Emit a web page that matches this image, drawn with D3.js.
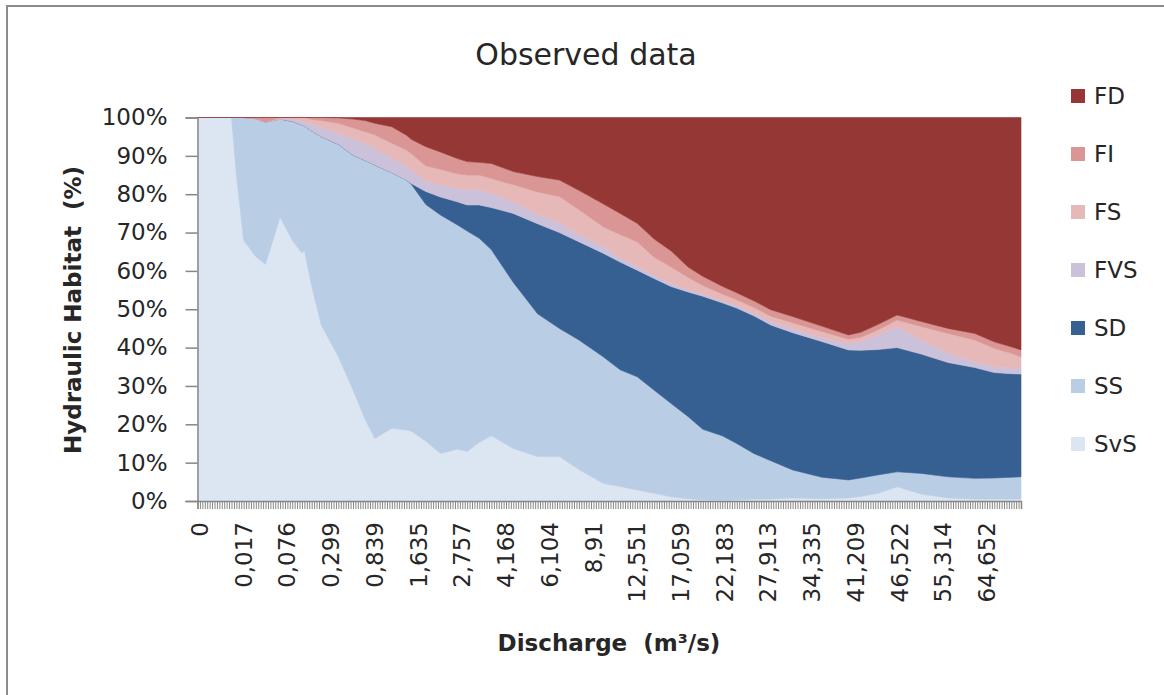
<!DOCTYPE html>
<html><head><meta charset="utf-8">
<script src="https://cdn.jsdelivr.net/npm/d3@7"></script>
<style>
body{margin:0;background:#fff;}
svg text{font-family:"DejaVu Sans",sans-serif;fill:#262626;}
</style>
</head><body>
<svg id="chart" width="1164" height="695"></svg>
<script>
// ---- data ----
const chartTitle = "Observed data";
const categoryCount = 340;          // discharge classes on the category axis
const labelStep = 18;               // one label every 18 categories
const xLabels = ["0","0,017","0,076","0,299","0,839","1,635","2,757","4,168","6,104","8,91",
  "12,551","17,059","22,183","27,913","34,335","41,209","46,522","55,314","64,652"];
const yTicks = [0,10,20,30,40,50,60,70,80,90,100];
const seriesNames = ["SvS","SS","SD","FVS","FS","FI","FD"];
const seriesColors = ["#DCE6F2","#B9CDE5","#376092","#CCC1DA","#E6B9B8","#D99694","#953735"];

const sampleIndex = [0,14,16,19,24,28,34,39,43,44,47,51,58,64,69,73,80,86,88,94,
  100,107,111,116,121,130,140,149,157,167,174,181,188,195,202,208,216,222,229,236,
  245,257,268,273,280,288,298,309,320,328,335,339];

const SvS = [100,100,85,68,63.7,61.7,74,68,64.6,65.4,56,45.8,37.6,29,21.3,16.3,19,18.5,18.2,15.6,
  12.4,13.5,12.9,15.3,17,13.7,11.6,11.6,8.2,4.6,3.8,2.9,2,1.1,0.6,0.3,0.2,0.3,0.5,0.5,
  0.8,0.6,0.8,1.2,2,3.7,1.8,0.8,0.5,0.5,0.5,0.5];
const SS = [0,0,15,32,36,37.1,25.6,31,33.4,32.4,40.5,49.2,55.4,61.2,67.5,71.3,66.6,65.2,64.4,61.7,
  62.2,58.5,57.5,53.2,48.5,43.3,37.2,33.4,33.8,33,30.4,29.5,26.9,24.3,21.4,18.4,16.8,14.7,11.9,10,
  7.3,5.6,4.7,4.8,4.8,3.9,5.4,5.5,5.4,5.5,5.7,5.8];
const SD = [0,0,0,0,0,0,0,0,0,0,0,0,0,0,0,0,0,0,0.2,3.4,
  4.7,6,6.8,8.7,11,18,23.5,25,25.6,27,28.1,27.8,29.1,30.5,32.5,34.7,34.7,35.3,35.9,35.4,
  35.8,35.4,33.9,33.3,32.7,32.4,31.1,29.8,28.9,27.5,27,26.8];
const FVS = [0,0,0,0,0,0,0,0.6,1,1,1.8,2.4,2.9,4.3,4.5,4.4,3.8,3.6,3.5,2.7,
  3.1,3.5,4.1,3.9,3.7,3,2.5,2.6,1.9,1.9,1.1,1,0.8,0.8,0.5,0.6,0.6,0.7,0.7,0.9,
  1.1,1,1.7,2.2,3.8,5.4,3.7,2.4,1.5,1.5,1.5,1.5];
const FS = [0,0,0,0,0,0,0.4,0.4,1,1.2,1.2,1.8,2.6,2.8,3,3.5,3.9,4.2,4.3,4,
  4.1,3.8,3.7,3.9,3.9,4.5,5.8,6.8,6.5,5,6.1,6.4,4.8,4.3,3.3,2.2,1.7,1.5,1.5,1.4,
  1.5,1.6,1.1,1.2,1.3,1.8,3.5,5.2,5.7,4.8,3.8,3];
const FI = [0,0,0,0,0.3,1.2,0,0,0,0,0.5,0.8,1.4,2.3,2.9,3,4.3,3.9,3.7,5,
  4.5,4,3.5,3.3,3.9,3.4,4,4.3,5,6,5.5,4.8,4.7,4.2,2.7,2.4,2,1.8,1.7,1.7,
  1.6,1.4,1.1,1.3,1.4,1.3,1.3,1.3,1.7,1.7,1.7,1.8];
const FD = [0,0,0,0,0,0,0,0,0,0,0,0,0.1,0.4,0.8,1.5,2.4,4.6,5.7,7.6,
  9,10.7,11.5,11.7,12,14.1,15.4,16.3,19,22.5,25,27.6,31.7,34.8,39,41.4,44,45.7,47.8,50.1,
  51.9,54.4,56.7,56,54,51.5,53.2,55,56.3,58.5,59.8,60.6];

// ---- table for the stack ----
const seriesData = {SvS, SS, SD, FVS, FS, FI, FD};
const rows = sampleIndex.map((idx, j) => {
  const r = {idx};
  seriesNames.forEach(n => r[n] = seriesData[n][j]);
  return r;
});

const svg = d3.select("#chart");
const W = 1164, H = 695;
const plot = {left: 197.5, right: 1021, top: 117.5, bottom: 501};

// outer chart border
svg.append("rect").attr("x", 7).attr("y", 6).attr("width", W + 10).attr("height", H + 10)
  .attr("fill", "#fff").attr("stroke", "#8c8c8c").attr("stroke-width", 2);

const x = d3.scaleLinear().domain([0, categoryCount - 1]).range([plot.left, plot.right]);
const y = d3.scaleLinear().domain([0, 1]).range([plot.bottom, plot.top]);

const stack = d3.stack().keys(seriesNames).offset(d3.stackOffsetExpand);
const layers = stack(rows);

const area = d3.area()
  .x(d => x(d.data.idx))
  .y0(d => y(d[0]))
  .y1(d => y(d[1]));

svg.append("g").selectAll("path").data(layers).join("path")
  .attr("d", area)
  .attr("fill", (d, i) => seriesColors[i])
  .attr("stroke", (d, i) => seriesColors[i])
  .attr("stroke-width", 0.6);

const axisColor = "#868686";

// y axis
const yAxis = svg.append("g").attr("transform", `translate(${plot.left},0)`)
  .call(d3.axisLeft(y).tickValues(yTicks.map(v => v / 100))
    .tickFormat(v => Math.round(v * 100) + "%").tickSize(12).tickPadding(18));
yAxis.select(".domain").attr("stroke", axisColor).attr("stroke-width", 1.5);
yAxis.selectAll(".tick line").attr("stroke", axisColor).attr("stroke-width", 1.5);
yAxis.selectAll(".tick text").style("font-size", "23px").attr("fill", "#262626")
  .style("font-family", "'DejaVu Sans', sans-serif");

// x axis: one tick per category, labels every labelStep categories
const xAxis = svg.append("g").attr("transform", `translate(0,${plot.bottom})`)
  .call(d3.axisBottom(x).tickValues(d3.range(categoryCount)).tickSize(8).tickFormat(""));
xAxis.select(".domain").attr("stroke", axisColor).attr("stroke-width", 1.5);
xAxis.selectAll(".tick line").attr("stroke", axisColor).attr("stroke-width", 1);

svg.append("g").selectAll("text").data(xLabels).join("text")
  .attr("transform", (d, k) => `translate(${x(k * labelStep) + 2.5},${plot.bottom + 21}) rotate(-90)`)
  .attr("text-anchor", "end")
  .attr("dominant-baseline", "central")
  .style("font-size", "23px")
  .text(d => d);

// title
svg.append("text").attr("x", 586).attr("y", 65).attr("text-anchor", "middle")
  .style("font-size", "30px").text(chartTitle);

// axis titles
svg.append("text").attr("x", 609).attr("y", 651).attr("text-anchor", "middle")
  .style("font-size", "23px").style("font-weight", "bold").style("white-space", "pre")
  .text("Discharge\u00a0 (m\u00b3/s)");

svg.append("text").attr("transform", "translate(81,310) rotate(-90)")
  .attr("text-anchor", "middle")
  .style("font-size", "23px").style("font-weight", "bold").style("white-space", "pre")
  .text("Hydraulic Habitat\u00a0 (%)");

// legend (top entry = FD)
const legendOrder = seriesNames.slice().reverse();
const lg = svg.append("g").selectAll("g").data(legendOrder).join("g")
  .attr("transform", (d, i) => `translate(1071,${96 + i * 58})`);
lg.append("rect").attr("x", 0).attr("y", -7).attr("width", 14).attr("height", 14)
  .attr("fill", d => seriesColors[seriesNames.indexOf(d)]);
lg.append("text").attr("x", 23).attr("y", 0).attr("dominant-baseline", "central")
  .style("font-size", "23px").text(d => d);
</script>
</body></html>
